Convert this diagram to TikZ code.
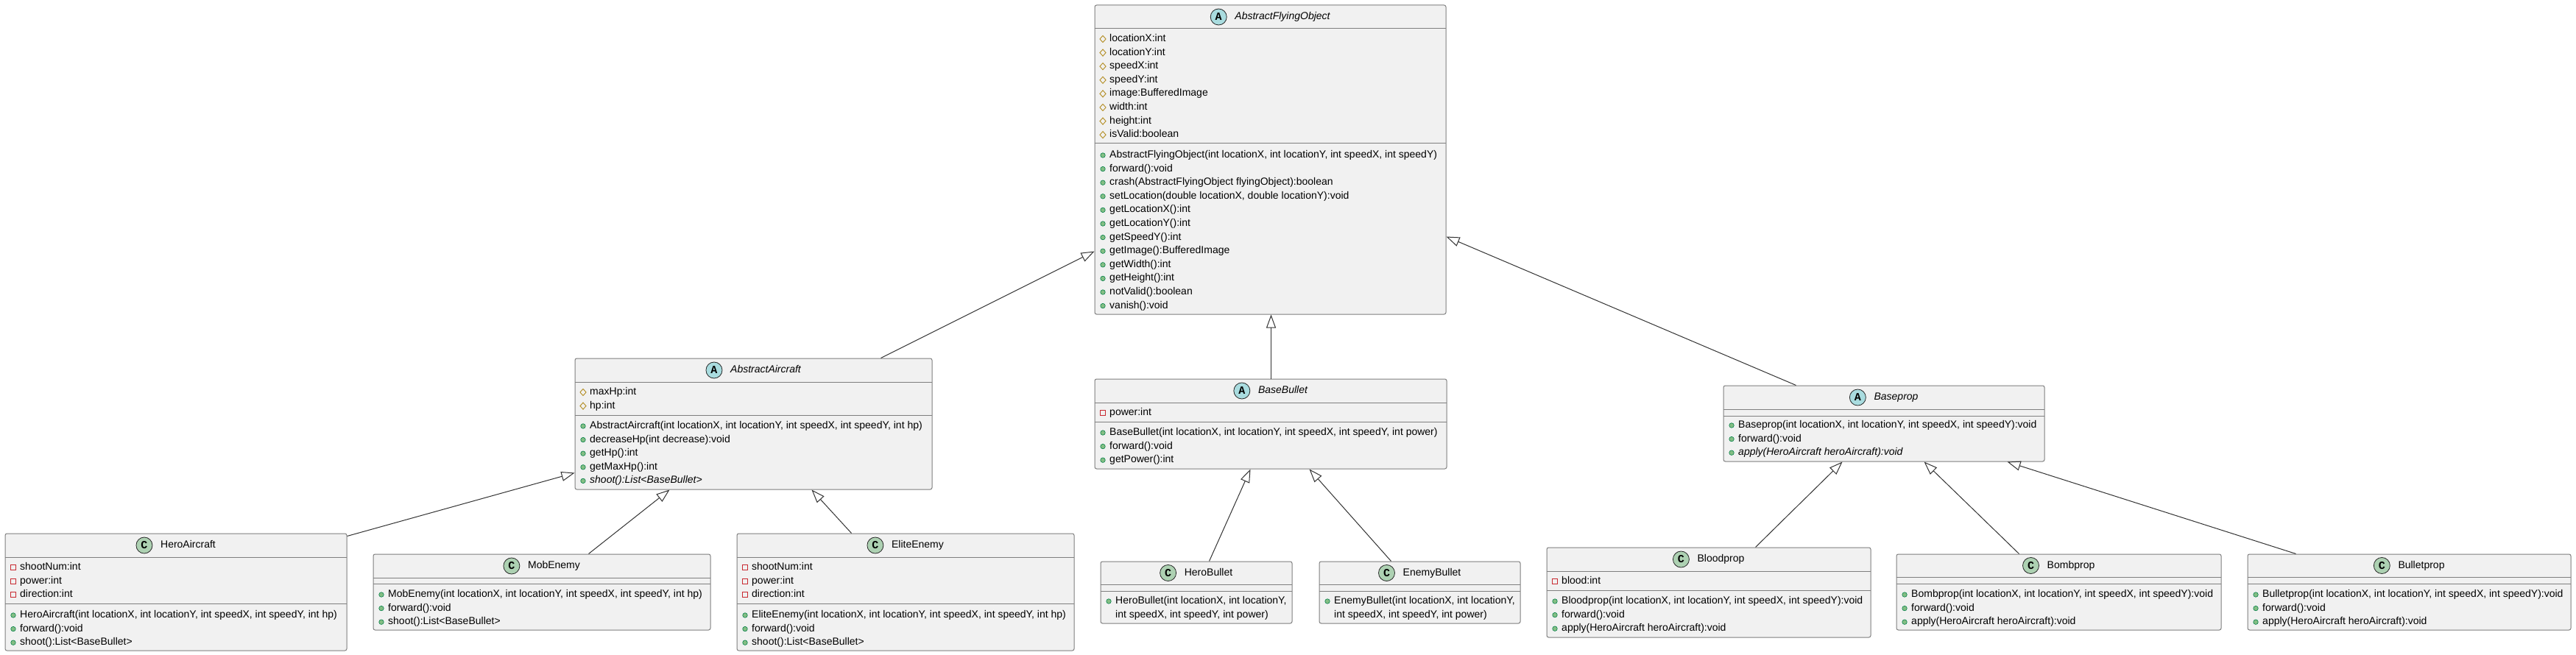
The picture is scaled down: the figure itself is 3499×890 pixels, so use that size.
\documentclass[tikz,border=0pt]{standalone}
\usepackage{fontspec}
\setmainfont{Liberation Sans}
\newfontfamily\iconfont{Liberation Mono}
\usetikzlibrary{arrows.meta,fit,calc,shapes.geometric}
\definecolor{boxfill}{HTML}{F1F1F1}
\definecolor{boxline}{HTML}{7F7F7F}
\definecolor{conn}{HTML}{333333}
\definecolor{absfill}{HTML}{A9DCDF}
\definecolor{clsfill}{HTML}{ADD1B2}
\definecolor{protc}{HTML}{B38D22}
\definecolor{privc}{HTML}{C82930}
\definecolor{pubfill}{HTML}{84BE84}
\definecolor{publine}{HTML}{038048}
\tikzset{
  classbox/.style={draw=boxline, fill=boxfill, line width=1pt, rounded corners=2.5pt, inner sep=0pt},
  divline/.style={draw=boxline, line width=1pt},
  titletext/.style={inner sep=0pt, font=\fontsize{14}{16}\selectfont, text height=10pt, text depth=3pt, anchor=center},
  kindicon/.style={circle, draw=black!85, line width=0.8pt, minimum size=22pt, inner sep=0pt, font=\fontsize{15}{15}\selectfont\iconfont\bfseries},
  memtext/.style={inner sep=0pt, anchor=west, font=\fontsize{14}{16}\selectfont, text height=10pt, text depth=3pt},
  protmark/.style={diamond, draw=protc, line width=0.9pt, minimum width=8.5pt, minimum height=9.5pt, inner sep=0pt},
  privmark/.style={rectangle, draw=privc, line width=0.9pt, minimum size=7pt, inner sep=0pt},
  pubmark/.style={circle, draw=publine, fill=pubfill, line width=0.6pt, minimum size=6.5pt, inner sep=0pt},
  gen/.style={draw=conn, line width=1pt, -{Triangle[open, length=18pt, width=13pt]}},
}
% #1 name, #2 left, #3 top, #4 right, #5 bottom, #6 header divider, #7 attribute divider
\newcommand\umlclass[7]{%
  \path (#2,#3) coordinate (#1-nw) (#4,#5) coordinate (#1-se) (#4,#6) coordinate (#1-hdr);
  \node[classbox, fit=(#1-nw)(#1-se)] (#1) {};
  \draw[divline] (#2,#6) -- (#4,#6);
  \draw[divline] (#2,#7) -- (#4,#7);
}
% #1 name, #2 letter, #3 fill, #4 title
\newcommand\umlhead[4]{%
  \node[titletext] (#1-title) at ($(#1-nw)!0.5!(#1-hdr)$) {\hspace*{33pt}#4};
  \node[kindicon, fill=#3] (#1-kind) at ([xshift=11pt]#1-title.west) {#2};
}
% #1 left, #2 first row y, #3 marker style, #4 name prefix, #5 list
\newcommand\umlrows[5]{%
  \foreach \txt [count=\i from 0] in {#5} {
    \node[#3] (#4-m\i) at (#1+11, #2+\i*18.6) {};
    \node[memtext] (#4-t\i) at (#1+20, #2+\i*18.6) {\txt};
  }
}
\begin{document}
\begin{tikzpicture}[x=1pt,y=-1pt]
\useasboundingbox (0,0) rectangle (3499,890);
\fill[white] (0,0) rectangle (3499,890);

% AbstractFlyingObject
\umlclass{afo}{1487}{7}{1964}{427}{39}{195}
\umlhead{afo}{A}{absfill}{\itshape AbstractFlyingObject}
\umlrows{1487}{53}{protmark}{afoa}{locationX:int, locationY:int, speedX:int, speedY:int, image:BufferedImage, width:int, height:int, isValid:boolean}
\umlrows{1487}{211}{pubmark}{afom}{{AbstractFlyingObject(int locationX, int locationY, int speedX, int speedY)}, forward():void, crash(AbstractFlyingObject flyingObject):boolean, {setLocation(double locationX, double locationY):void}, getLocationX():int, getLocationY():int, getSpeedY():int, getImage():BufferedImage, getWidth():int, getHeight():int, notValid():boolean, vanish():void}

% AbstractAircraft
\umlclass{aa}{781}{487}{1266}{665}{519}{564}
\umlhead{aa}{A}{absfill}{\itshape AbstractAircraft}
\umlrows{781}{533}{protmark}{aaa}{maxHp:int, hp:int}
\umlrows{781}{579}{pubmark}{aam}{{AbstractAircraft(int locationX, int locationY, int speedX, int speedY, int hp)}, decreaseHp(int decrease):void, getHp():int, getMaxHp():int, \textit{shoot():List<BaseBullet>}}

% BaseBullet
\umlclass{bb}{1487}{515}{1965}{637}{547}{573}
\umlhead{bb}{A}{absfill}{\itshape BaseBullet}
\umlrows{1487}{561}{privmark}{bba}{power:int}
\umlrows{1487}{588}{pubmark}{bbm}{{BaseBullet(int locationX, int locationY, int speedX, int speedY, int power)}, forward():void, getPower():int}

% Baseprop
\umlclass{bp}{2341}{524}{2777}{627}{556}{565}
\umlhead{bp}{A}{absfill}{\itshape Baseprop}
\umlrows{2341}{578}{pubmark}{bpm}{{Baseprop(int locationX, int locationY, int speedX, int speedY):void}, forward():void, \textit{apply(HeroAircraft heroAircraft):void}}

% HeroAircraft
\umlclass{hero}{7}{725}{471}{884}{757}{820}
\umlhead{hero}{C}{clsfill}{HeroAircraft}
\umlrows{7}{771}{privmark}{heroa}{shootNum:int, power:int, direction:int}
\umlrows{7}{836}{pubmark}{herom}{{HeroAircraft(int locationX, int locationY, int speedX, int speedY, int hp)}, forward():void, shoot():List<BaseBullet>}

% MobEnemy
\umlclass{mob}{507}{753}{965}{856}{785}{793}
\umlhead{mob}{C}{clsfill}{MobEnemy}
\umlrows{507}{808}{pubmark}{mobm}{{MobEnemy(int locationX, int locationY, int speedX, int speedY, int hp)}, forward():void, shoot():List<BaseBullet>}

% EliteEnemy
\umlclass{elite}{1001}{725}{1459}{884}{757}{820}
\umlhead{elite}{C}{clsfill}{EliteEnemy}
\umlrows{1001}{771}{privmark}{elitea}{shootNum:int, power:int, direction:int}
\umlrows{1001}{836}{pubmark}{elitem}{{EliteEnemy(int locationX, int locationY, int speedX, int speedY, int hp)}, forward():void, shoot():List<BaseBullet>}

% HeroBullet
\umlclass{hb}{1495}{763}{1755}{847}{794}{803}
\umlhead{hb}{C}{clsfill}{HeroBullet}
\node[pubmark] (hb-m0) at (1506,817) {};
\node[memtext] (hb-t0) at (1515,817) {HeroBullet(int locationX, int locationY,};
\node[memtext] (hb-t1) at (1515,836) {int speedX, int speedY, int power)};

% EnemyBullet
\umlclass{eb}{1792}{763}{2065}{847}{794}{803}
\umlhead{eb}{C}{clsfill}{EnemyBullet}
\node[pubmark] (eb-m0) at (1803,817) {};
\node[memtext] (eb-t0) at (1812,817) {EnemyBullet(int locationX, int locationY,};
\node[memtext] (eb-t1) at (1812,836) {int speedX, int speedY, int power)};

% Bloodprop
\umlclass{blood}{2101}{744}{2541}{866}{776}{802}
\umlhead{blood}{C}{clsfill}{Bloodprop}
\umlrows{2101}{790}{privmark}{blooda}{blood:int}
\umlrows{2101}{817}{pubmark}{bloodm}{{Bloodprop(int locationX, int locationY, int speedX, int speedY):void}, forward():void, apply(HeroAircraft heroAircraft):void}

% Bombprop
\umlclass{bomb}{2576}{753}{3017}{856}{784}{793}
\umlhead{bomb}{C}{clsfill}{Bombprop}
\umlrows{2576}{808}{pubmark}{bombm}{{Bombprop(int locationX, int locationY, int speedX, int speedY):void}, forward():void, apply(HeroAircraft heroAircraft):void}

% Bulletprop
\umlclass{bullet}{3053}{753}{3492}{856}{784}{793}
\umlhead{bullet}{C}{clsfill}{Bulletprop}
\umlrows{3053}{808}{pubmark}{bulletm}{{Bulletprop(int locationX, int locationY, int speedX, int speedY):void}, forward():void, apply(HeroAircraft heroAircraft):void}

% generalizations
\draw[gen] ($(aa.north west)+(416,0)$) -- ($(afo.north west)+(0,335)$);
\draw[gen] ($(bb.north west)+(240,0)$) -- ($(afo.south west)+(240,0)$);
\draw[gen] ($(bp.north west)+(99,0)$) -- ($(afo.north east)+(0,315)$);
\draw[gen] ($(hero.north east)+(0,4)$) -- ($(aa.north west)+(0,156)$);
\draw[gen] ($(mob.north west)+(293,0)$) -- ($(aa.south west)+(129,0)$);
\draw[gen] ($(elite.north west)+(156,0)$) -- ($(aa.south west)+(322,0)$);
\draw[gen] ($(hb.north west)+(148,0)$) -- ($(bb.south west)+(212,0)$);
\draw[gen] ($(eb.north west)+(98,0)$) -- ($(bb.south west)+(292,0)$);
\draw[gen] ($(blood.north west)+(284,0)$) -- ($(bp.south west)+(162,0)$);
\draw[gen] ($(bomb.north west)+(167,0)$) -- ($(bp.south west)+(273,0)$);
\draw[gen] ($(bullet.north west)+(66,0)$) -- ($(bp.south west)+(386,0)$);
\end{tikzpicture}
\end{document}
